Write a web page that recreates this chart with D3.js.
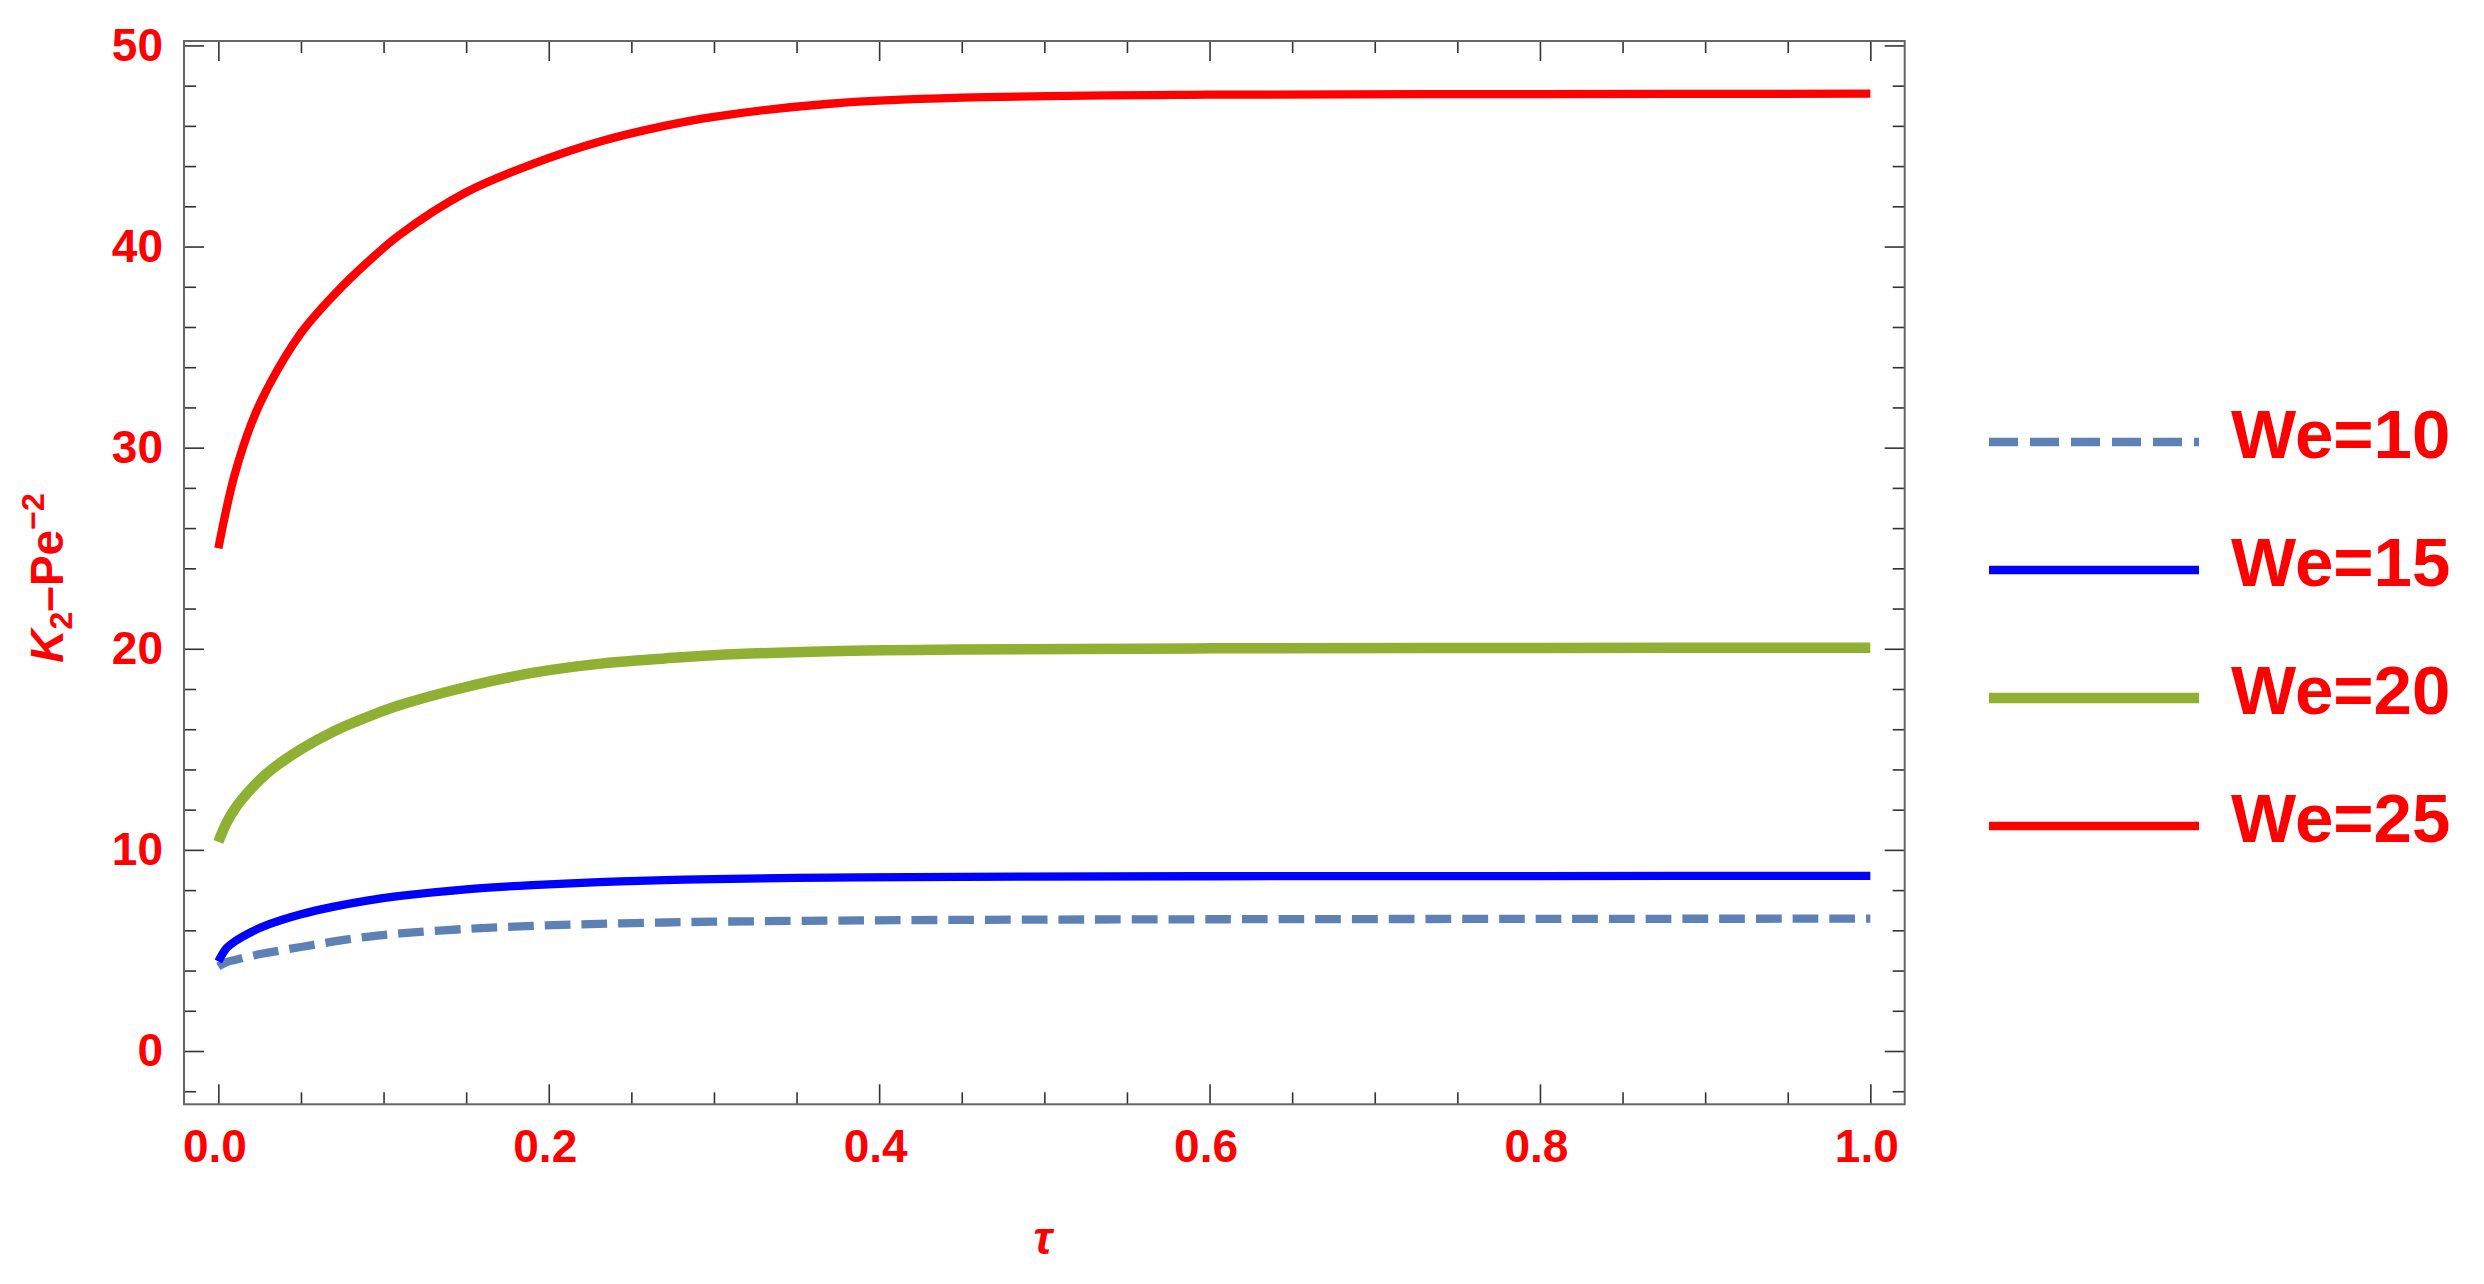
<!DOCTYPE html>
<html>
<head>
<meta charset="utf-8">
<script src="https://cdn.jsdelivr.net/npm/d3@7"></script>
<style>
  html, body { margin: 0; padding: 0; background: #fff; }
  svg { display: block; }
  text { font-family: "Liberation Sans", Arial, sans-serif; }
</style>
</head>
<body>
<svg id="chart" width="2484" height="1284"></svg>
<script>
// ---- data ----
const tau = [0, 0.005, 0.01, 0.02, 0.03, 0.05, 0.07, 0.09, 0.11, 0.15, 0.19, 0.23, 0.27, 0.30, 0.37, 0.45, 0.6, 0.8, 1.0];
const we10 = [4.2, 4.42, 4.53, 4.73, 4.89, 5.17, 5.45, 5.68, 5.85, 6.07, 6.22, 6.32, 6.39, 6.43, 6.48, 6.52, 6.55, 6.57, 6.58];
const we15 = [4.45, 5.12, 5.45, 5.92, 6.28, 6.8, 7.18, 7.48, 7.71, 8.04, 8.25, 8.40, 8.50, 8.55, 8.62, 8.66, 8.69, 8.70, 8.71];
const we20 = [10.4, 11.35, 12.05, 13.05, 13.85, 15.0, 15.9, 16.6, 17.2, 18.1, 18.8, 19.25, 19.52, 19.68, 19.88, 19.97, 20.02, 20.04, 20.05];
const we25 = [25.0, 27.0, 28.7, 31.2, 33.0, 35.7, 37.6, 39.2, 40.6, 42.7, 44.1, 45.2, 46.0, 46.45, 47.1, 47.4, 47.55, 47.58, 47.6];
const seriesNames = ["We=10", "We=15", "We=20", "We=25"];
const xMajorTicks = [0, 0.2, 0.4, 0.6, 0.8, 1.0];
const xMinorTicks = [0.05, 0.1, 0.15, 0.25, 0.3, 0.35, 0.45, 0.5, 0.55, 0.65, 0.7, 0.75, 0.85, 0.9, 0.95];
const yMajorTicks = [0, 10, 20, 30, 40, 50];
const yMinorTicks = [-2, 2, 4, 6, 8, 12, 14, 16, 18, 22, 24, 26, 28, 32, 34, 36, 38, 42, 44, 46, 48];

// ---- styles ----
const styles = [
  { color: "#5E81B5", width: 8.3, dash: "25.7 11", legendDash: "29 12" },
  { color: "#0000FF", width: 8.3, dash: null, legendDash: null },
  { color: "#8FB032", width: 10.5, dash: null, legendDash: null },
  { color: "#FF0000", width: 8.3, dash: null, legendDash: null }
];
const seriesValues = [we10, we15, we20, we25];

const svg = d3.select("#chart");
const L = 184, R = 1904.7, T = 41, B = 1104.3;
const x = d3.scaleLinear().domain([-0.0208, 1.0208]).range([L, R]);
const y = d3.scaleLinear().domain([-2.65, 50.22]).range([B, T]);

const red = "#FF0000";
const fmtX = d3.format(".1f");

function styleAxis(g) {
  g.select(".domain").remove();
  g.selectAll(".tick line").attr("stroke", "#333").attr("stroke-width", 1.6);
}

// bottom
svg.append("g").attr("transform", `translate(0,${B})`)
  .call(d3.axisBottom(x).tickValues(xMinorTicks).tickSizeInner(-12).tickSizeOuter(0).tickFormat(""))
  .call(styleAxis);
svg.append("g").attr("transform", `translate(0,${B})`)
  .call(d3.axisBottom(x).tickValues(xMajorTicks).tickSizeInner(-20).tickSizeOuter(0).tickPadding(25).tickFormat(fmtX))
  .call(styleAxis)
  .call(g => g.selectAll("text").attr("fill", red).attr("font-size", 46).attr("font-weight", "bold").attr("dx", -4));
// top
svg.append("g").attr("transform", `translate(0,${T})`)
  .call(d3.axisTop(x).tickValues(xMinorTicks).tickSizeInner(-12).tickSizeOuter(0).tickFormat(""))
  .call(styleAxis);
svg.append("g").attr("transform", `translate(0,${T})`)
  .call(d3.axisTop(x).tickValues(xMajorTicks).tickSizeInner(-20).tickSizeOuter(0).tickFormat(""))
  .call(styleAxis);
// left
svg.append("g").attr("transform", `translate(${L},0)`)
  .call(d3.axisLeft(y).tickValues(yMinorTicks).tickSizeInner(-12).tickSizeOuter(0).tickFormat(""))
  .call(styleAxis);
svg.append("g").attr("transform", `translate(${L},0)`)
  .call(d3.axisLeft(y).tickValues(yMajorTicks).tickSizeInner(-20).tickSizeOuter(0).tickPadding(21).tickFormat(d3.format("d")))
  .call(styleAxis)
  .call(g => g.selectAll("text").attr("fill", red).attr("font-size", 46).attr("font-weight", "bold"));
// right
svg.append("g").attr("transform", `translate(${R},0)`)
  .call(d3.axisRight(y).tickValues(yMinorTicks).tickSizeInner(-12).tickSizeOuter(0).tickFormat(""))
  .call(styleAxis);
svg.append("g").attr("transform", `translate(${R},0)`)
  .call(d3.axisRight(y).tickValues(yMajorTicks).tickSizeInner(-20).tickSizeOuter(0).tickFormat(""))
  .call(styleAxis);

// frame
svg.append("rect").attr("x", L).attr("y", T).attr("width", R - L).attr("height", B - T)
  .attr("fill", "none").attr("stroke", "#666").attr("stroke-width", 2);

// lines
const line = d3.line().x(d => x(d[0])).y(d => y(d[1])).curve(d3.curveCatmullRom.alpha(0.5));
seriesValues.forEach((vals, i) => {
  const pts = tau.map((t, j) => [t, vals[j]]);
  const p = svg.append("path").datum(pts)
    .attr("d", line)
    .attr("fill", "none")
    .attr("stroke", styles[i].color)
    .attr("stroke-width", styles[i].width)
    .attr("stroke-linejoin", "round");
  if (styles[i].dash) p.attr("stroke-dasharray", styles[i].dash);
});

// axis labels
svg.append("text").attr("x", 1043).attr("y", 1254).attr("text-anchor", "middle")
  .attr("fill", red).attr("font-size", 46).attr("font-weight", "bold").attr("font-style", "italic")
  .text("τ");

const yl = svg.append("text").attr("transform", "translate(63,578) rotate(-90)")
  .attr("text-anchor", "middle").attr("fill", red).attr("font-size", 46).attr("font-weight", "bold");
yl.append("tspan").attr("font-style", "italic").text("K");
yl.append("tspan").attr("font-size", 32).attr("dy", 9).text("2");
yl.append("tspan").attr("dy", -9).text("–Pe");
yl.append("tspan").attr("font-size", 32).attr("dy", -19).text("−2");

// legend
const legendY = [442, 570, 698, 826];
seriesNames.forEach((name, i) => {
  const ly = legendY[i];
  const ln = svg.append("line").attr("x1", 1989).attr("x2", 2199).attr("y1", ly).attr("y2", ly)
    .attr("stroke", styles[i].color).attr("stroke-width", styles[i].width);
  if (styles[i].legendDash) ln.attr("stroke-dasharray", styles[i].legendDash);
  svg.append("text").attr("x", 2231).attr("y", ly + 16)
    .attr("fill", red).attr("font-size", 69).attr("font-weight", "bold").text(name);
});
</script>
</body>
</html>
